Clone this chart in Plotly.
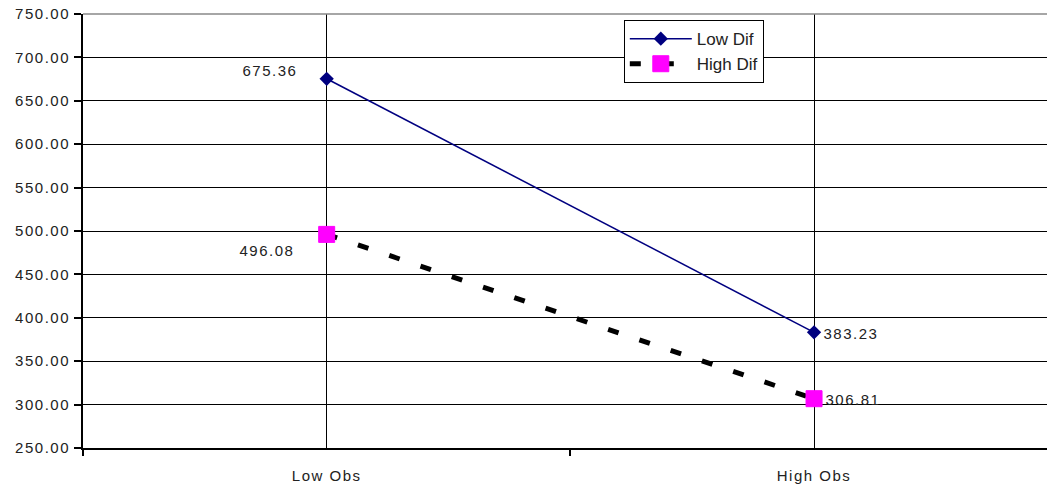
import plotly.graph_objects as go

categories = ["Low Obs", "High Obs"]
cat_pos = [0, 1]
low_dif = [675.36, 383.23]
high_dif = [496.08, 306.81]
y_ticks = [250, 300, 350, 400, 450, 500, 550, 600, 650, 700, 750]

FONT = "Liberation Sans, Arial, sans-serif"

fig = go.Figure()
fig.add_trace(go.Scatter(
    x=cat_pos, y=low_dif, name="Low Dif", mode="lines+markers",
    legendgroup="a",
    line=dict(color="#000080", width=1.5),
    marker=dict(symbol="diamond", size=11, color="#000080"),
))
fig.add_trace(go.Scatter(
    x=cat_pos, y=high_dif, name="High Dif", mode="lines+markers",
    legendgroup="b",
    line=dict(color="black", width=5, dash="11px,22px"),
    marker=dict(symbol="square", size=16, color="#FF00FF", line=dict(color="#FF00FF", width=1)),
))

# data labels
label_specs = [
    (cat_pos[0], low_dif[0], "right", -32, 8),
    (cat_pos[1], low_dif[1], "left", 12, -1),
    (cat_pos[0], high_dif[0], "right", -35, -16),
    (cat_pos[1], high_dif[1], "left", 14, -1),
]
for x, y, anc, xs, ys in label_specs:
    fig.add_annotation(x=x, y=y, text=f"{y:.2f}", showarrow=False,
                       xanchor=anc, yanchor="middle", xshift=xs, yshift=ys,
                       font=dict(family=FONT, size=15, color="#222"))

fig.add_shape(type="line", xref="paper", yref="paper", x0=0, x1=1, y0=1, y1=1,
              line=dict(color="#888", width=1.5))

fig.update_layout(
    width=1047, height=488,
    margin=dict(l=83, r=0, t=14, b=40),
    paper_bgcolor="white", plot_bgcolor="white",
    font=dict(family=FONT, size=15, color="#222"),
    showlegend=True,
    legend=dict(
        x=0.561, y=0.986, xanchor="left", yanchor="top",
        bgcolor="white", bordercolor="black", borderwidth=1,
        font=dict(family=FONT, size=17, color="#222"),
        itemwidth=62, tracegroupgap=0, traceorder="grouped",
    ),
    xaxis=dict(
        range=[-0.5, 1.478], tickvals=cat_pos, ticktext=categories,
        showgrid=True, gridcolor="black", gridwidth=1,
        ticks="", showline=True, linecolor="black", linewidth=2,
        zeroline=False, ticklabelstandoff=13,
        minor=dict(tickvals=[-0.5, 0.5, 1.5], ticks="outside", ticklen=6,
                   tickwidth=1.5, tickcolor="black", showgrid=False),
        fixedrange=True,
    ),
    yaxis=dict(
        range=[250, 750], tickvals=y_ticks, tickformat=".2f",
        showgrid=True, gridcolor="black", gridwidth=1,
        ticks="outside", ticklen=7, tickwidth=2, tickcolor="black",
        showline=True, linecolor="black", linewidth=2,
        zeroline=False, ticklabelstandoff=1,
    ),
)

post = """
var gd = document.getElementById('{plot_id}');
gd.querySelectorAll('.xtick text, .ytick text, .annotation-text').forEach(function(t){ t.style.letterSpacing = '1.5px'; });
"""
fig.write_html("out.html", post_script=post)
